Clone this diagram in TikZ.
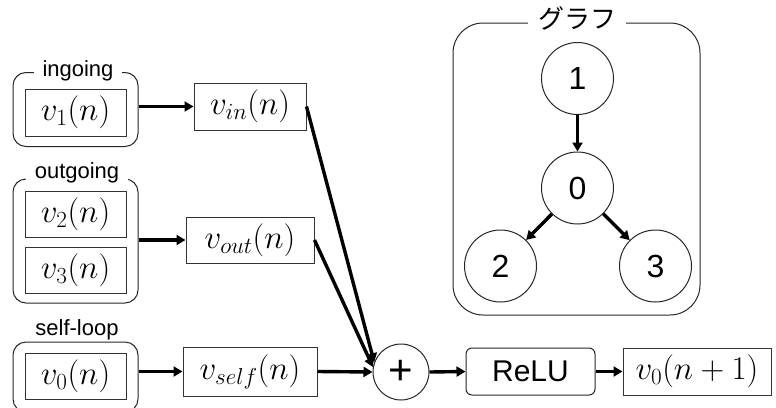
\documentclass[tikz,border=0pt]{standalone}
\usepackage{fix-cm}
\usepackage{fontspec}
\setmainfont{Liberation Sans}
\newfontfamily\jpfont{Noto Sans CJK JP}
\usetikzlibrary{arrows.meta}
\begin{document}
\begin{tikzpicture}[x=1pt,y=-1pt,
  box/.style={draw=black!80, line width=1pt, rectangle, inner sep=0pt,
    minimum height=46pt, font=\fontsize{33}{36}\selectfont},
  grp/.style={draw=black!85, line width=1pt, rounded corners=13pt, rectangle, inner sep=0pt},
  glabel/.style={fill=white, inner xsep=9pt, inner ysep=1pt, anchor=base,
    font=\fontsize{22}{24}\selectfont},
  arr/.style={line width=3.4pt, -{Triangle[length=9pt,width=10pt]}},
  vert/.style={circle, draw=black!85, line width=1pt, minimum size=72pt,
    inner sep=0pt, font=\fontsize{32}{34}\selectfont},
]
\useasboundingbox (0,0) rectangle (776,407);
\clip (0,0) rectangle (776,407);

% ---- ingoing group
\node[grp, minimum width=125pt, minimum height=74pt] (g1) at (75.5,109.5) {};
\node[glabel] (l1) at (78,76) {ingoing};
\node[box, minimum width=101pt, minimum height=47pt] (v1) at (75.5,112.5) {$v_1(n)$};
\node[box, minimum width=112pt, minimum height=47pt] (vin) at (250,106.5) {$v_{in}(n)$};

% ---- outgoing group
\node[grp, minimum width=125pt, minimum height=124pt] (g2) at (75.5,241) {};
\node[glabel] (l2) at (77,178) {outgoing};
\node[box, minimum width=101pt] (v2) at (75.5,214) {$v_2(n)$};
\node[box, minimum width=101pt] (v3) at (75.5,270) {$v_3(n)$};
\node[box, minimum width=128pt] (vout) at (250,240) {$v_{out}(n)$};

% ---- self-loop group
\node[grp, minimum width=125pt, minimum height=70pt] (g3) at (75.5,377) {};
\node[glabel] (l3) at (77,335) {self-loop};
\node[box, minimum width=101pt] (v0) at (75.5,376) {$v_0(n)$};
\node[box, minimum width=134pt, minimum height=49pt] (vself) at (250,371.5) {$v_{self}(n)$};

% ---- sum, ReLU, output
\node[circle, draw=black!85, line width=1pt, minimum size=56pt, inner sep=0pt,
  font=\fontsize{42}{44}\selectfont] (plus) at (401,372) {+};
\node[draw=black!85, line width=1pt, rounded corners=6pt, minimum width=129pt,
  minimum height=47pt, inner sep=0pt, font=\fontsize{30}{32}\selectfont] (relu) at (530.5,371.5) {ReLU};
\node[box, minimum width=148pt, minimum height=47pt] (vnext) at (697,371.5) {$v_0(n+1)$};

% ---- connectors
\draw[arr] (g1.east |- vin.west) -- (vin.west);
\draw[arr] (g2.east |- vout.west) -- (vout.west);
\draw[arr] (g3.east |- vself.west) -- (vself.west);
\draw[arr] (vin.east) -- (plus.160);
\draw[arr] (vout.east) -- (plus.170);
\draw[arr] (vself.east) -- (plus.west);
\draw[arr] (plus.east) -- (relu.west);
\draw[arr] (relu.east) -- (vnext.west);

% ---- graph
\node[draw=black!85, line width=1pt, rounded corners=30pt, minimum width=247pt,
  minimum height=292pt, inner sep=0pt] (graph) at (576.5,169) {};
\node[fill=white, inner xsep=10pt, inner ysep=1pt, font=\jpfont\fontsize{26}{28}\selectfont]
  (gl) at (577,18.5) {グラフ};
\node[vert] (n1) at (577.5,78.5) {1};
\node[vert] (n0) at (577.5,188) {0};
\node[vert] (n2) at (500.5,266) {2};
\node[vert] (n3) at (655.5,266) {3};
\draw[arr] (n1) -- (n0);
\draw[arr] (n0) -- (n2);
\draw[arr] (n0) -- (n3);
\end{tikzpicture}
\end{document}
